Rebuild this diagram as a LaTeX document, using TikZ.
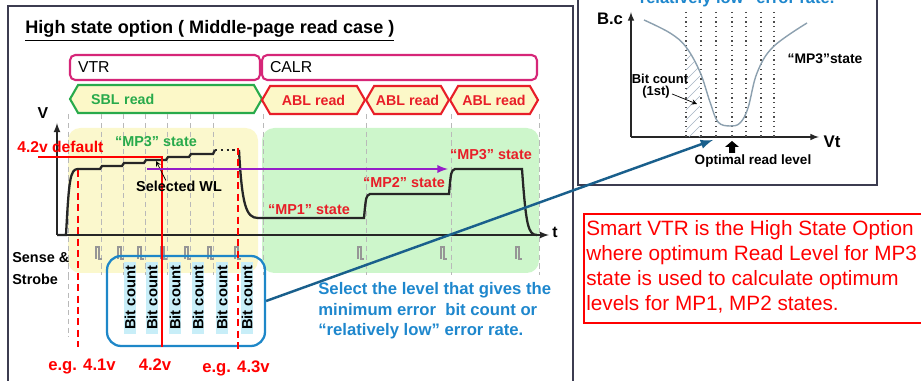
\documentclass[tikz,border=0pt]{standalone}
\usepackage{fontspec}
\setmainfont{Liberation Sans}
\usepackage{tikz}
\usetikzlibrary{arrows}
\usetikzlibrary{shapes.symbols}
\definecolor{framegray}{RGB}{60,60,80}
\definecolor{phasepink}{RGB}{214,38,120}
\definecolor{sblgreen}{RGB}{40,170,75}
\definecolor{ablred}{RGB}{232,30,40}
\definecolor{readfill}{RGB}{252,248,200}
\definecolor{vtrbg}{RGB}{251,248,205}
\definecolor{calrbg}{RGB}{205,246,203}
\definecolor{gridgray}{RGB}{185,185,185}
\definecolor{mppurple}{RGB}{150,30,200}
\definecolor{boxblue}{RGB}{30,135,200}
\definecolor{bitcyan}{RGB}{200,238,248}
\definecolor{linkblue}{RGB}{25,95,140}
\definecolor{selblue}{RGB}{30,135,205}
\definecolor{curvegray}{RGB}{140,160,175}
\definecolor{hatchgray}{RGB}{165,180,195}
\definecolor{pulsegray}{RGB}{150,150,150}
\newcommand{\fsz}[2]{\fontsize{#1}{#2}\selectfont}
\tikzstyle{frame}=[draw=framegray, line width=1.1pt]
\tikzstyle{txt}=[inner sep=0pt, font=\bfseries\fsz{8.2}{10}]
\tikzstyle{phasebox}=[rectangle, rounded corners=3pt, draw=phasepink, line width=1.2pt, fill=white, minimum height=0.5cm, inner xsep=0.16cm, align=left, font=\fsz{9}{10}]
\tikzstyle{readbox}=[signal, signal to=west and east, signal pointer angle=120, line width=1.2pt, fill=readfill, minimum height=0.56cm, inner sep=1pt, font=\bfseries\fsz{8.1}{9}]
\tikzstyle{sbl}=[readbox, draw=sblgreen, text=sblgreen]
\tikzstyle{abl}=[readbox, draw=ablred, text=ablred]
\tikzstyle{grid}=[draw=gridgray, thin, dash pattern=on 3pt off 2pt]
\tikzstyle{axis}=[->, >=latex, draw=black!85, line width=0.8pt]
\tikzstyle{wave}=[draw=black!85, line width=1.3pt]
\tikzstyle{pulse}=[draw=pulsegray, line width=0.6pt]
\tikzstyle{bitstrip}=[rectangle, rotate=90, fill=bitcyan, minimum width=1.46cm, minimum height=0.24cm, inner sep=0pt, font=\bfseries\fsz{8.4}{9}]
\tikzstyle{bcbox}=[rectangle, draw=boxblue, line width=1.3pt, rounded corners=8pt, minimum width=3.16cm, minimum height=1.8cm]
\tikzstyle{redline}=[draw=red, line width=1.6pt]
\tikzstyle{reddash}=[draw=red, line width=1.1pt, dash pattern=on 4pt off 2.5pt]
\tikzstyle{redlab}=[txt, text=red, font=\bfseries\fsz{9.5}{11}]
\tikzstyle{mplab}=[txt, text=ablred]
\tikzstyle{mparrow}=[-latex, draw=mppurple, line width=1.1pt]
\tikzstyle{link}=[-latex, draw=linkblue, line width=1.4pt]
\tikzstyle{level}=[draw=black!70, line width=0.7pt, dotted]
\tikzstyle{small}=[txt, font=\bfseries\fsz{7.4}{8.5}]

\begin{document}
\begin{tikzpicture}[x=0.02cm, y=-0.02cm]
	\useasboundingbox (0,0) rectangle (921,381);
	% left page and right panel
	\draw[frame] (8,6) rectangle (573,400);
	\draw[frame, fill=white] (578,-10) rectangle (877,185);
	\draw (25,31) node[anchor=west, txt, font=\bfseries\fsz{10.3}{12}] (title) {\underline{High state option ( Middle-page read case )}};

	% phases
	\draw (165,67.5) node[phasebox, text width=3.48cm] (vtr) {VTR};
	\draw (399.5,67.5) node[phasebox, text width=5.18cm] (calr) {CALR};
	\draw (166,99) node[sbl, minimum width=3.84cm, text width=3.0cm, align=left] (sbl) {SBL read};
	\draw (313.5,100) node[abl, minimum width=2.06cm] (abl1) {ABL read};
	\draw (407.5,100) node[abl, minimum width=1.62cm] (abl2) {ABL read};
	\draw (494,100) node[abl, minimum width=1.76cm] (abl3) {ABL read};

	\fill[vtrbg, rounded corners=7pt] (68,128) rectangle (258,273);
	\fill[calrbg, rounded corners=7pt] (262,128) rectangle (539,273);
	\foreach \gx in {68,101,123,145,167,190,213,263,366,451,539}
		\draw[grid] (\gx,114) -- (\gx,275);
	\draw[grid] (68,275) -- (68,337);

	% axes
	\coordinate (origin) at (57,235);
	\coordinate (vtip) at (57,123);
	\coordinate (ttip) at (549,235);
	\draw[axis] (origin) -- (vtip);
	\draw[axis] (origin) -- (ttip);
	\draw (43,113) node[txt, font=\bfseries\fsz{9}{10}] (vlab) {V};
	\draw (555,232) node[txt, font=\bfseries\fsz{9}{10}] (tlab) {t};

	% word line voltage
	\draw[wave] (origin) -- (66,235) .. controls (69,180) and (70,169) .. (78,169) -- (100,169) -- (102,166) -- (122,166) -- (124,163) -- (144,163) -- (146,160) -- (166,160) -- (168,157) -- (189,157) -- (191,154) -- (213,154) -- (215,150);
	\draw[wave, dotted] (215,150) -- (238,150);
	\draw[wave] (239,150) .. controls (242,205) and (246,218) .. (258,218) -- (364,218) .. controls (366,196) .. (370,194) -- (449,194) .. controls (451,171) .. (455,169) -- (522,169) .. controls (526,225) and (528,235) .. (537,235);

	\foreach \px in {98,120,140,163,187,210,237,360,443,518}
		\draw[pulse] (\px-2,259) -- ++(0,-12) -- ++(3,0) -- ++(0,12) -- ++(3,0);
	\draw (12,258) node[anchor=west, txt] (sense) {Sense \&};
	\draw (12,279) node[anchor=west, txt] (strobe) {Strobe};

	% bit counts
	\foreach \bx [count=\i] in {130,152,175,198,222,247}
		\draw (\bx,298) node[bitstrip] (bit\i) {Bit count};
	\draw (186,301) node[bcbox] (bcbox) {};

	% read levels
	\coordinate (defleft) at (38,157);
	\coordinate (deftop) at (162,157);
	\coordinate (defbot) at (162,347);
	\draw[redline] (defleft) -- (deftop) -- (defbot);
	\coordinate (lowtop) at (78,170);
	\coordinate (lowbot) at (78,347);
	\coordinate (hightop) at (238,148);
	\coordinate (highbot) at (238,352);
	\draw[reddash] (lowtop) -- (lowbot);
	\draw[reddash] (hightop) -- (highbot);
	\draw (17,147) node[anchor=west, redlab, font=\bfseries\fsz{8.9}{10}] (default) {4.2v default};
	\draw (82,367) node[redlab] (eg41) {e.g. 4.1v};
	\draw (155,365) node[redlab] (v42) {4.2v};
	\draw (236,368) node[redlab] (eg43) {e.g. 4.3v};

	\draw (156,142) node[txt, text=sblgreen] (vtrmp3) {``MP3'' state};
	\draw (179,186) node[txt] (selwl) {Selected WL};
	\coordinate (selpt) at (156,161);
	\draw[-stealth, thin] (selwl.north west) ++(30,0) -- (selpt);
	\coordinate (mpfrom) at (147,169);
	\coordinate (mpto) at (448,169);
	\draw[mparrow] (mpfrom) -- (mpto);
	\draw (309,210) node[mplab] (mp1) {``MP1'' state};
	\draw (404,183) node[mplab] (mp2) {``MP2'' state};
	\draw (491,155) node[mplab] (mp3) {``MP3'' state};

	\draw (318,311) node[anchor=west, txt, text=selblue, align=left, font=\bfseries\fsz{9.5}{11.6}] (select) {Select the level that gives the\\minimum error~~bit count or\\``relatively low'' error rate.};

	% bit count curve
	\draw (733,4) node[anchor=base, txt, text=selblue, font=\bfseries\fsz{9.4}{11}] (cut) {``relatively low'' error rate.};
	\coordinate (bcorig) at (631,137);
	\coordinate (bctop) at (631,12);
	\coordinate (bcright) at (819,137);
	\draw[axis, line width=0.7pt] (bcorig) -- (bctop);
	\draw[axis, line width=0.7pt] (bcorig) -- (bcright);
	\draw (610,19) node[txt, font=\bfseries\fsz{9.5}{10}] (bclab) {B.c};
	\draw (832,142) node[txt, font=\bfseries\fsz{9.6}{10}] (vtlab) {Vt};
	\foreach \dx in {686,701,716,732,746,761,774}
		\draw[level] (\dx,12) -- (\dx,137);
	\begin{scope}
		\clip (686,47) -- (700,72) -- (700,137) -- (686,137) -- cycle;
		\foreach \hy in {50,60,...,160}
			\draw[hatchgray, thin] (686,\hy) -- ++(14,-14);
	\end{scope}
	\draw[curvegray, line width=0.8pt] plot[smooth, tension=0.6] coordinates {(644,20) (670,33) (686,47) (700,72) (710,102) (718,122) (730,126) (740,123) (748,108) (757,73) (773,47) (807,23)};
	\draw (660,79) node[small] (bitcnt) {Bit count};
	\draw (656,92) node[small] (first) {(1st)};
	\coordinate (hatchpt) at (697,104);
	\draw[-stealth, thin] (first.east) ++(2,2) -- (hatchpt);
	\draw (825,59) node[small, font=\bfseries\fsz{7.9}{9}] (bcmp3) {``MP3''state};
	\fill[black] (732,141) -- (739,147) -- (735,147) -- (735,153) -- (729,153) -- (729,147) -- (725,147) -- cycle;
	\draw (753,161) node[small, font=\bfseries\fsz{7.7}{9}] (optimal) {Optimal read level};

	% note
	\draw[draw=red, line width=1.2pt] (584,214) rectangle (930,323);
	\draw (586,267) node[anchor=west, txt, text=red, align=left, font=\fsz{11.8}{14.2}] (smart) {Smart VTR is the High State Option\\where optimum Read Level for MP3\\state is used to calculate optimum\\levels for MP1, MP2 states.};

	\coordinate (optpt) at (713,140);
	\draw[link] (bcbox.east) -- (optpt);
\end{tikzpicture}
\end{document}
